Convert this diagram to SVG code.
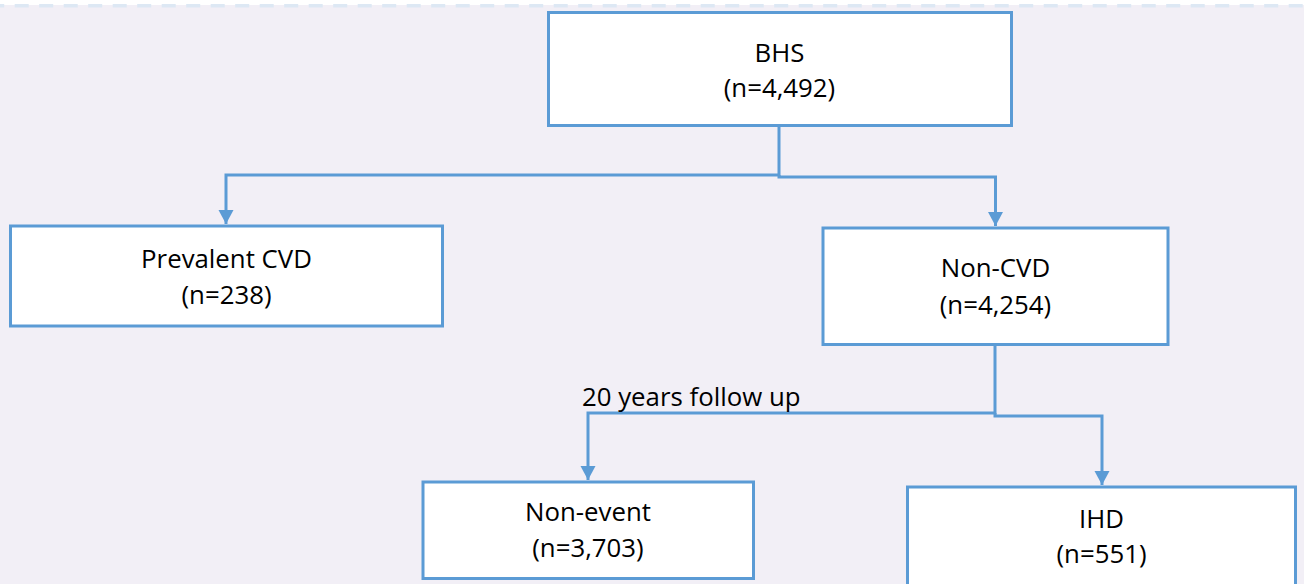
<svg xmlns="http://www.w3.org/2000/svg" width="1304" height="584" viewBox="0 0 1304 584">
  <style>
    .box { fill: #ffffff; stroke: #5b9bd5; stroke-width: 3; }
    .conn { fill: none; stroke: #5b9bd5; stroke-width: 3; }
    .lbl { font-family: "Open Sans", "Liberation Sans", sans-serif; font-size: 25.8px; fill: #000000; text-anchor: middle; }
    .note { font-family: "Open Sans", "Liberation Sans", sans-serif; font-size: 25.8px; fill: #000000; }
  </style>
  <defs>
    <marker id="arrow" markerUnits="userSpaceOnUse" markerWidth="16" markerHeight="16" refX="14" refY="7.5" orient="auto">
      <path d="M0,0 L14,7.5 L0,15 Z" fill="#5b9bd5"/>
    </marker>
  </defs>
  <rect x="0" y="0" width="1304" height="584" fill="#f2eff6"/>
  <rect x="0" y="0" width="1304" height="5" fill="#ffffff"/>
  <line x1="0" y1="5.8" x2="1304" y2="5.8" stroke="#dde8f4" stroke-width="3.5" stroke-dasharray="14 10.5" stroke-dashoffset="9.8"/>

  <g id="connectors">
    <polyline class="conn" points="779,126 779,175 226,175 226,224" marker-end="url(#arrow)"/>
    <polyline class="conn" points="779,175 779,177 995.5,177 995.5,226" marker-end="url(#arrow)"/>
    <polyline class="conn" points="995,345 995,413 588,413 588,480" marker-end="url(#arrow)"/>
    <polyline class="conn" points="995,413 995,416 1102,416 1102,485" marker-end="url(#arrow)"/>
  </g>

  <g id="node-bhs">
    <rect class="box" x="548.5" y="12.5" width="463" height="113"/>
    <text class="lbl" x="779.5" y="62">BHS</text>
    <text class="lbl" x="779.5" y="97">(n=4,492)</text>
  </g>
  <g id="node-prevalent">
    <rect class="box" x="10.5" y="226" width="432" height="100"/>
    <text class="lbl" x="226.5" y="268">Prevalent CVD</text>
    <text class="lbl" x="226.5" y="304">(n=238)</text>
  </g>
  <g id="node-noncvd">
    <rect class="box" x="823" y="228" width="345" height="116.5"/>
    <text class="lbl" x="995.5" y="277">Non-CVD</text>
    <text class="lbl" x="995.5" y="314">(n=4,254)</text>
  </g>
  <g id="label-followup">
    <text class="note" x="582" y="406">20 years follow up</text>
  </g>
  <g id="node-nonevent">
    <rect class="box" x="423" y="482" width="330.5" height="96.5"/>
    <text class="lbl" x="588" y="521">Non-event</text>
    <text class="lbl" x="588" y="557">(n=3,703)</text>
  </g>
  <g id="node-ihd">
    <rect class="box" x="907.5" y="487" width="388" height="110"/>
    <text class="lbl" x="1101.5" y="528">IHD</text>
    <text class="lbl" x="1101.5" y="563">(n=551)</text>
  </g>
</svg>
